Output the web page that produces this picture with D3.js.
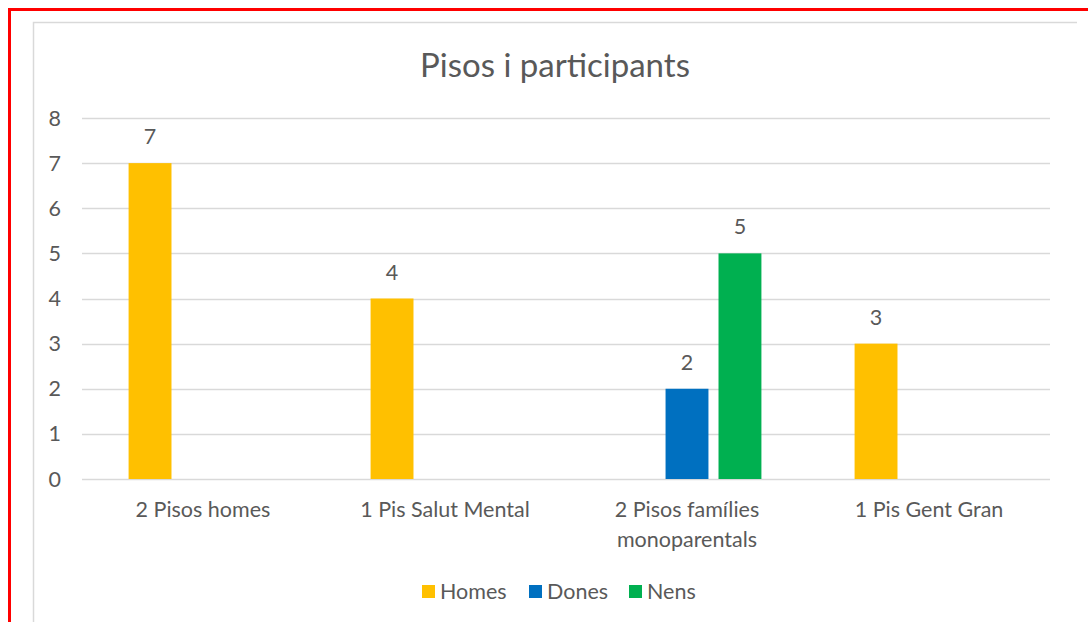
<!DOCTYPE html>
<html lang="ca">
<head>
<meta charset="utf-8">
<title>Pisos i participants</title>
<style>
  body { margin: 0; background: #fff; }
  svg { display: block; font-family: Lato, "Liberation Sans", sans-serif; }
  .grid line { stroke: #d9d9d9; stroke-width: 1.5; }
  .txt { fill: #595959; }
</style>
</head>
<body>
<svg id="chart" width="1088" height="622"></svg>
<script src="https://cdn.jsdelivr.net/npm/d3@7"></script>
<script>
// dades
var categories = ["2 Pisos homes", "1 Pis Salut Mental", "2 Pisos famílies monoparentals", "1 Pis Gent Gran"];
var series = ["Homes", "Dones", "Nens"];
var homes = [7, 4, 0, 3];
var dones = [0, 0, 2, 0];
var nens  = [0, 0, 5, 0];
var yTicks = [0, 1, 2, 3, 4, 5, 6, 7, 8];
var colors = ["#FFC000", "#0070C0", "#00B050"];

var values = [homes, dones, nens];
var rows = categories.map(function(c, i) {
  return { cat: c, vals: series.map(function(s, j) { return { s: s, v: values[j][i] }; }) };
});

var svg = d3.select("#chart");
var fs = "21.5px";

// marc vermell i vora del gràfic
svg.append("line").attr("x1", 8).attr("x2", 1088).attr("y1", 9.5).attr("y2", 9.5)
   .attr("stroke", "#ff0000").attr("stroke-width", 3);
svg.append("line").attr("x1", 9.5).attr("x2", 9.5).attr("y1", 8).attr("y2", 622)
   .attr("stroke", "#ff0000").attr("stroke-width", 3);
svg.append("path").attr("d", "M33.5,622V22.5H1077")
   .attr("fill", "none").attr("stroke", "#d9d9d9").attr("stroke-width", 1.5);

var plotLeft = 82, plotRight = 1050, plotTop = 118, plotBottom = 479;

var y = d3.scaleLinear().domain([0, 8]).range([plotBottom, plotTop]);
var x0 = d3.scaleBand().domain(categories).range([plotLeft, plotRight])
  .paddingInner(0.385).paddingOuter(0.1925);
var x1 = d3.scaleBand().domain(series).range([0, x0.bandwidth()])
  .paddingInner(0.19).paddingOuter(0);

// graella
svg.append("g").attr("class", "grid")
  .selectAll("line").data(yTicks).join("line")
  .attr("x1", plotLeft).attr("x2", plotRight)
  .attr("y1", function(d) { return Math.round(y(d)) + 0.5; })
  .attr("y2", function(d) { return Math.round(y(d)) + 0.5; });

// eix y
svg.append("g").selectAll("text").data(yTicks).join("text")
  .attr("class", "txt")
  .attr("x", 61).attr("y", function(d) { return y(d); })
  .attr("dy", "0.35em").attr("text-anchor", "end")
  .style("font-size", fs)
  .text(function(d) { return d; });

// barres
var groups = svg.append("g").selectAll("g").data(rows).join("g")
  .attr("transform", function(d) { return "translate(" + x0(d.cat) + ",0)"; });

var nonZero = function(d) { return d.vals.filter(function(v) { return v.v > 0; }); };

groups.selectAll("rect").data(nonZero).join("rect")
  .attr("x", function(d) { return x1(d.s); })
  .attr("y", function(d) { return y(d.v); })
  .attr("width", x1.bandwidth())
  .attr("height", function(d) { return y(0) - y(d.v); })
  .attr("fill", function(d) { return colors[series.indexOf(d.s)]; });

groups.selectAll("text").data(nonZero).join("text")
  .attr("class", "txt")
  .attr("x", function(d) { return x1(d.s) + x1.bandwidth() / 2; })
  .attr("y", function(d) { return y(d.v) - 19; })
  .attr("text-anchor", "middle")
  .style("font-size", fs)
  .text(function(d) { return d.v; });

// etiquetes de categoria
var catLines = {
  "2 Pisos famílies monoparentals": ["2 Pisos famílies", "monoparentals"]
};
svg.append("g").selectAll("text").data(categories).join("text")
  .attr("class", "txt")
  .attr("x", function(d) { return x0(d) + x0.bandwidth() / 2; })
  .attr("y", 517)
  .attr("text-anchor", "middle")
  .style("font-size", fs)
  .each(function(d) {
    var lines = catLines[d] || [d];
    var t = d3.select(this);
    lines.forEach(function(l, i) {
      t.append("tspan").attr("x", x0(d) + x0.bandwidth() / 2)
        .attr("dy", i === 0 ? 0 : 30).text(l);
    });
  });

// títol
svg.append("text").attr("class", "txt")
  .attr("x", 555).attr("y", 77).attr("text-anchor", "middle")
  .style("font-size", "33px")
  .text("Pisos i participants");

// llegenda
var legendX = [422, 529, 629];
var leg = svg.append("g").selectAll("g").data(series).join("g")
  .attr("transform", function(d, i) { return "translate(" + legendX[i] + ",585)"; });
leg.append("rect").attr("width", 13).attr("height", 13)
  .attr("fill", function(d, i) { return colors[i]; });
leg.append("text").attr("class", "txt")
  .attr("x", 18).attr("y", 6.5).attr("dy", "0.35em")
  .style("font-size", fs)
  .text(function(d) { return d; });
</script>
</body>
</html>
